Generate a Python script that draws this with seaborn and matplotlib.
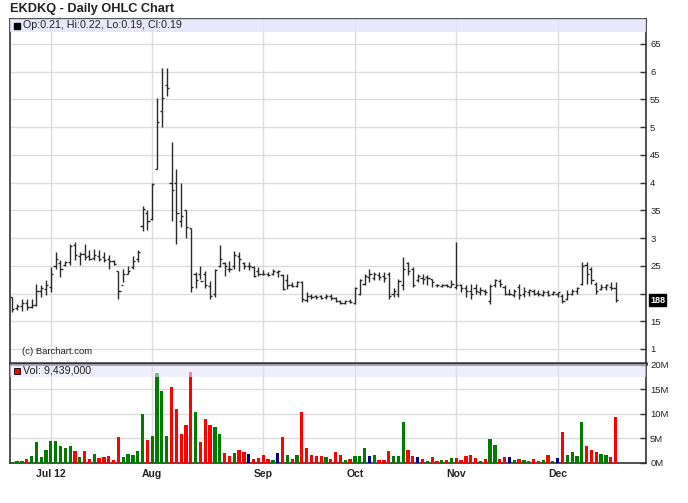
import numpy as np
import pandas as pd
import matplotlib
matplotlib.use("Agg")
import matplotlib.pyplot as plt
import matplotlib.transforms as mtransforms
from matplotlib.patches import Rectangle
import seaborn as sns

# ---------------- data ----------------
ticker = "EKDKQ"
holidays = ["2012-07-04", "2012-09-03", "2012-10-29", "2012-10-30", "2012-11-22"]
dates = pd.bdate_range("2012-06-20", "2012-12-19")
dates = dates[~dates.isin(pd.to_datetime(holidays))]

high = [0.194, 0.181, 0.190, 0.191, 0.190, 0.218, 0.216, 0.225, 0.247, 0.274,
        0.260, 0.259, 0.289, 0.293, 0.275, 0.289, 0.278, 0.280, 0.278, 0.274,
        0.270, 0.260, 0.241, 0.245, 0.250, 0.268, 0.278, 0.358, 0.350, 0.400,
        0.552, 0.606, 0.607, 0.474, 0.424, 0.399, 0.350, 0.318, 0.238, 0.250,
        0.240, 0.222, 0.244, 0.288, 0.257, 0.259, 0.277, 0.274, 0.257, 0.256,
        0.250, 0.247, 0.242, 0.239, 0.245, 0.242, 0.236, 0.236, 0.221, 0.223,
        0.223, 0.203, 0.199, 0.197, 0.197, 0.199, 0.200, 0.194, 0.188, 0.188,
        0.190, 0.212, 0.227, 0.236, 0.244, 0.239, 0.239, 0.239, 0.239, 0.210,
        0.227, 0.266, 0.257, 0.248, 0.236, 0.236, 0.233, 0.227, 0.218, 0.218,
        0.218, 0.224, 0.292, 0.218, 0.215, 0.218, 0.218, 0.212, 0.209, 0.218,
        0.227, 0.227, 0.215, 0.209, 0.209, 0.218, 0.212, 0.209, 0.208, 0.206,
        0.206, 0.206, 0.205, 0.203, 0.200, 0.206, 0.209, 0.212, 0.256, 0.256,
        0.248, 0.221, 0.218, 0.218, 0.220, 0.220]
low = [0.167, 0.171, 0.169, 0.170, 0.173, 0.177, 0.194, 0.197, 0.203, 0.245,
       0.230, 0.250, 0.251, 0.260, 0.251, 0.260, 0.260, 0.260, 0.259, 0.257,
       0.245, 0.251, 0.190, 0.220, 0.235, 0.245, 0.257, 0.312, 0.315, 0.333,
       0.425, 0.500, 0.557, 0.330, 0.290, 0.320, 0.300, 0.202, 0.210, 0.227,
       0.210, 0.190, 0.194, 0.247, 0.232, 0.238, 0.245, 0.240, 0.245, 0.242,
       0.230, 0.232, 0.233, 0.232, 0.234, 0.230, 0.206, 0.209, 0.212, 0.212,
       0.185, 0.185, 0.191, 0.191, 0.190, 0.191, 0.188, 0.184, 0.181, 0.181,
       0.182, 0.181, 0.197, 0.215, 0.221, 0.224, 0.224, 0.221, 0.191, 0.194,
       0.194, 0.206, 0.233, 0.212, 0.221, 0.218, 0.215, 0.212, 0.211, 0.211,
       0.211, 0.211, 0.208, 0.203, 0.194, 0.191, 0.200, 0.197, 0.197, 0.181,
       0.212, 0.212, 0.197, 0.197, 0.194, 0.190, 0.194, 0.196, 0.197, 0.196,
       0.196, 0.196, 0.197, 0.194, 0.182, 0.188, 0.197, 0.199, 0.215, 0.218,
       0.218, 0.200, 0.206, 0.206, 0.206, 0.185]
open_ = [0.194, 0.173, 0.178, 0.182, 0.176, 0.180, 0.205, 0.208, 0.212, 0.250,
         0.255, 0.252, 0.256, 0.288, 0.268, 0.272, 0.268, 0.264, 0.268, 0.265,
         0.262, 0.258, 0.240, 0.215, 0.236, 0.247, 0.262, 0.322, 0.345, 0.335,
         0.425, 0.530, 0.576, 0.400, 0.399, 0.330, 0.350, 0.318, 0.235, 0.235,
         0.236, 0.214, 0.200, 0.250, 0.255, 0.245, 0.250, 0.268, 0.255, 0.250,
         0.248, 0.240, 0.235, 0.235, 0.236, 0.238, 0.234, 0.225, 0.215, 0.214,
         0.220, 0.188, 0.196, 0.195, 0.196, 0.193, 0.196, 0.192, 0.186, 0.182,
         0.186, 0.183, 0.200, 0.218, 0.230, 0.228, 0.234, 0.232, 0.236, 0.200,
         0.200, 0.215, 0.255, 0.245, 0.225, 0.228, 0.230, 0.226, 0.216, 0.214,
         0.216, 0.212, 0.212, 0.215, 0.210, 0.205, 0.210, 0.202, 0.205, 0.186,
         0.216, 0.222, 0.212, 0.200, 0.198, 0.212, 0.200, 0.202, 0.205, 0.201,
         0.198, 0.202, 0.199, 0.200, 0.196, 0.190, 0.200, 0.205, 0.218, 0.252,
         0.245, 0.218, 0.208, 0.211, 0.212, 0.210]
close = [0.172, 0.178, 0.182, 0.175, 0.180, 0.205, 0.210, 0.215, 0.235, 0.262,
         0.245, 0.256, 0.285, 0.270, 0.272, 0.266, 0.262, 0.270, 0.263, 0.261,
         0.258, 0.254, 0.205, 0.235, 0.240, 0.258, 0.275, 0.352, 0.330, 0.398,
         0.510, 0.553, 0.570, 0.387, 0.345, 0.339, 0.320, 0.212, 0.224, 0.222,
         0.215, 0.196, 0.242, 0.263, 0.250, 0.244, 0.270, 0.262, 0.250, 0.250,
         0.232, 0.236, 0.236, 0.234, 0.240, 0.240, 0.209, 0.215, 0.214, 0.220,
         0.190, 0.195, 0.194, 0.193, 0.192, 0.196, 0.192, 0.186, 0.183, 0.186,
         0.184, 0.210, 0.224, 0.232, 0.235, 0.236, 0.230, 0.228, 0.195, 0.205,
         0.222, 0.245, 0.240, 0.215, 0.232, 0.226, 0.228, 0.220, 0.215, 0.216,
         0.214, 0.218, 0.215, 0.210, 0.205, 0.200, 0.205, 0.207, 0.202, 0.214,
         0.224, 0.218, 0.200, 0.200, 0.204, 0.198, 0.204, 0.206, 0.200, 0.199,
         0.202, 0.198, 0.202, 0.202, 0.186, 0.200, 0.205, 0.210, 0.250, 0.235,
         0.225, 0.205, 0.212, 0.215, 0.210, 0.188]
volume_m = [0.2, 0.5, 0.5, 0.9, 1.4, 4.3, 1.2, 2.7, 4.5, 4.5,
            3.5, 3.1, 3.5, 2.4, 1.2, 2.4, 0.9, 1.8, 1.1, 1.3,
            1.4, 0.7, 5.3, 1.2, 1.8, 1.6, 2.4, 9.9, 4.7, 5.5,
            18.3, 14.6, 5.6, 15.5, 11.0, 5.9, 7.7, 18.5, 10.5, 4.3,
            8.9, 7.7, 7.3, 5.9, 2.0, 1.4, 2.0, 2.7, 2.2, 1.8,
            0.9, 1.1, 1.6, 0.9, 0.7, 2.0, 5.3, 1.6, 0.9, 1.6,
            10.5, 3.1, 1.6, 1.4, 1.4, 1.2, 0.9, 2.2, 1.6, 0.7,
            0.9, 1.4, 1.4, 3.1, 1.4, 1.6, 0.7, 0.7, 2.4, 1.4,
            1.4, 8.3, 2.7, 1.4, 1.2, 0.9, 0.5, 1.2, 0.5, 0.7,
            0.7, 1.1, 1.1, 0.7, 1.4, 1.6, 1.1, 0.5, 0.9, 4.9,
            3.7, 0.9, 1.2, 1.2, 0.7, 0.9, 0.7, 0.5, 0.9, 0.5,
            0.7, 1.6, 0.5, 1.1, 6.3, 1.6, 2.2, 1.4, 8.3, 3.5,
            2.7, 2.2, 1.8, 1.6, 1.2, 9.439]
# g = up day, r = down day, n = unchanged
direction = list("gggrgggggg" "gggrgrrgrr" "rrrgggggrg" "gggrrrrrgr" "rrggrrgrrn"
                 "rrrrgnrgrg" "rrrrrgrrrg" "rgggngrrrg" "ggrrnrgrrg" "rgrrrrrgrg"
                 "grrngrggrr" "grgnrggggr" "rrggrr")
month_labels = ["Jul 12", "Aug", "Sep", "Oct", "Nov", "Dec"]
price_ticks = [0.10, 0.15, 0.20, 0.25, 0.30, 0.35, 0.40, 0.45, 0.50, 0.55, 0.60, 0.65]
price_tick_labels = ["1", "15", "", "25", "3", "35", "4", "45", "5", "55", "6", "65"]
vol_ticks = [0, 5, 10, 15, 20]
vol_tick_labels = ["0M", "5M", "10M", "15M", "20M"]
last_label = "188"
last_price = 0.188
legend_price = "Op:0.21, Hi:0.22, Lo:0.19, Cl:0.19"
legend_vol = "Vol: 9,439,000"

# ---------------- style ----------------
sns.set_style("white")
plt.rcParams["font.family"] = ["Liberation Sans", "DejaVu Sans"]

pos = np.arange(len(dates))
month_start = [int(np.argmax((dates.month == m))) for m in [7, 8, 9, 10, 11, 12]]

fig = plt.figure(figsize=(6.88, 5.03), dpi=100)
W, H = 688, 503
axp = fig.add_axes([10 / W, 1 - 363 / H, 636 / W, 344 / H])
axv = fig.add_axes([10 / W, 1 - 463 / H, 636 / W, 99 / H])

grid_c = "#dcdcdc"
axis_c = "#333333"
xlim = (-0.46, 131.3)

# ---- price panel ----
for m in month_start:
    axp.axvline(m, color=grid_c, lw=1.0, zorder=0)
for t in price_ticks:
    axp.axhline(t, color=grid_c, lw=1.0, zorder=0)
bar_c = "#2a2a2a"
axp.vlines(pos, low, high, color=bar_c, lw=1.0, zorder=3)
axp.hlines(open_, pos - 0.45, pos, color=bar_c, lw=1.0, zorder=3)
axp.hlines(close, pos, pos + 0.45, color=bar_c, lw=1.0, zorder=3)
axp.set_xlim(*xlim)
axp.set_ylim(0.0747, 0.695)
axp.yaxis.tick_right()
axp.set_yticks(price_ticks)
axp.set_yticklabels(price_tick_labels)
axp.set_xticks([])
axp.tick_params(axis="y", direction="in", length=4, width=1, color=axis_c,
                labelsize=6.8, pad=3, labelcolor="#222222")

# legend band
axp.add_patch(Rectangle((0, 1 - 13 / 344), 1, 13 / 344, transform=axp.transAxes,
                        facecolor="#e4e4fa", alpha=0.85, edgecolor="none", zorder=5))
axp.add_patch(Rectangle((4 / 636, 1 - 10 / 344), 6 / 636, 6 / 344, transform=axp.transAxes,
                        facecolor="black", edgecolor="black", zorder=6))
axp.text(13 / 636, 1 - 6.5 / 344, legend_price, transform=axp.transAxes, fontsize=7.7,
         va="center", ha="left", color="#222222", zorder=6)
axp.text(12 / 636, 12 / 344, "(c) Barchart.com", transform=axp.transAxes, fontsize=6.8,
         va="center", ha="left", color="#222222")

# last price box
trans = mtransforms.blended_transform_factory(axp.transAxes, axp.transData)
axp.text(1.0 + 4 / 636, last_price, last_label, transform=trans, fontsize=6.5,
         color="white", va="center", ha="left", fontweight="bold",
         bbox=dict(boxstyle="square,pad=0.15", facecolor="black", edgecolor="black"))

# ---- volume panel ----
for m in month_start:
    axv.axvline(m, color=grid_c, lw=1.0, zorder=0)
for t in vol_ticks:
    axv.axhline(t, color=grid_c, lw=1.0, zorder=0)
df = pd.DataFrame({"pos": pos, "vol": volume_m, "dir": direction})
sns.barplot(data=df, x="pos", y="vol", hue="dir", dodge=False,
            order=list(pos), hue_order=["g", "r", "n"],
            palette={"g": "#007a00", "r": "#ff0000", "n": "#000080"},
            width=0.68, errorbar=None, saturation=1, legend=False, ax=axv,
            linewidth=0, zorder=3)
axv.set_xlim(*xlim)
axv.set_ylim(0, 20.2)
axv.set_xlabel("")
axv.set_ylabel("")
axv.yaxis.tick_right()
axv.set_yticks(vol_ticks)
axv.set_yticklabels(vol_tick_labels)
axv.set_xticks(month_start)
axv.set_xticklabels(month_labels, fontweight="bold", fontsize=7.5, color="#222222")
axv.tick_params(axis="x", length=0, pad=4)
axv.tick_params(axis="y", direction="in", length=4, width=1, color=axis_c,
                labelsize=6.8, pad=3, labelcolor="#222222")
axv.add_patch(Rectangle((0, 1 - 13 / 99), 1, 13 / 99, transform=axv.transAxes,
                        facecolor="#e4e4fa", alpha=0.6, edgecolor="none", zorder=5))
axv.add_patch(Rectangle((4 / 636, 1 - 10 / 99), 6 / 636, 6 / 99, transform=axv.transAxes,
                        facecolor="#ff0000", edgecolor="black", lw=0.6, zorder=6))
axv.text(13 / 636, 1 - 6.5 / 99, legend_vol, transform=axv.transAxes, fontsize=7.7,
         va="center", ha="left", color="#222222", zorder=6)

for ax in (axp, axv):
    for s in ax.spines.values():
        s.set_visible(True)
        s.set_color(axis_c)
        s.set_linewidth(1.2)
axp.spines["bottom"].set_linewidth(1.8)
axv.spines["top"].set_linewidth(1.8)

fig.text(10 / W, 1 - 9 / H, f"{ticker} - Daily OHLC Chart", fontsize=9.2, fontweight="bold",
         va="center", ha="left", color="#222222")

fig.savefig("out.png", dpi=100)
